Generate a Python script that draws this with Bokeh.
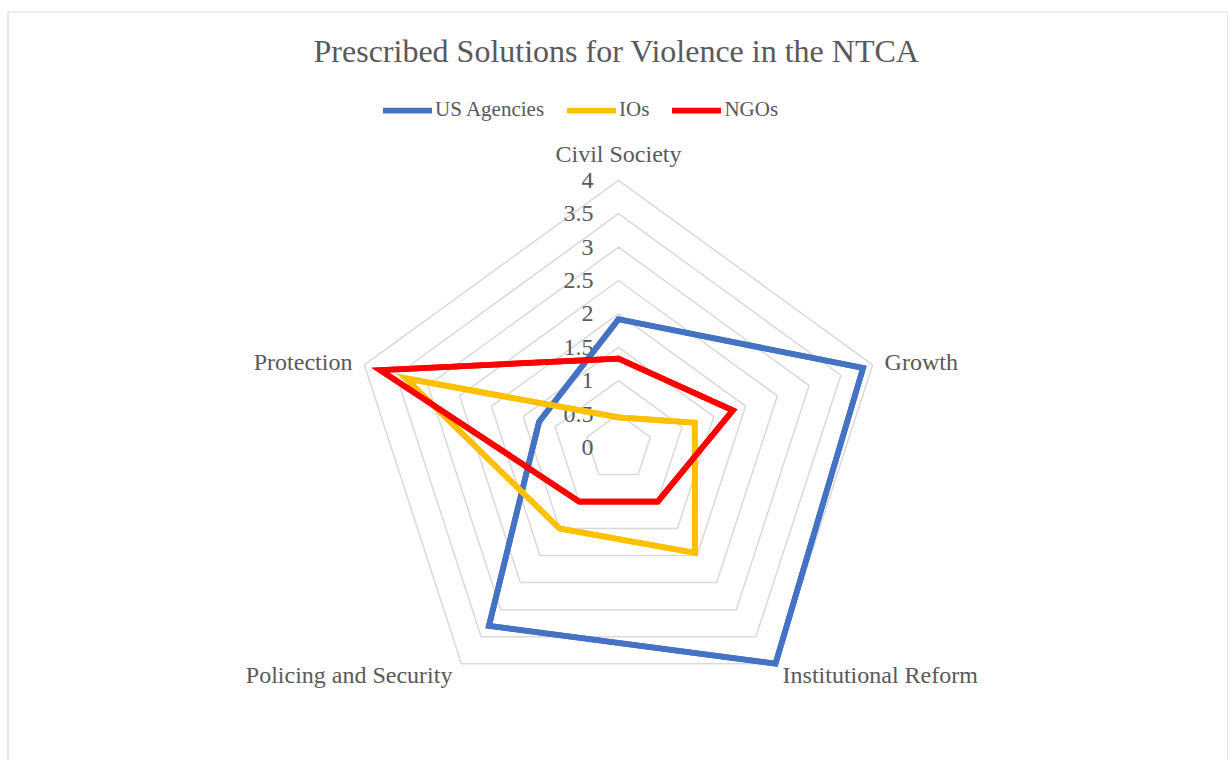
import numpy as np
from bokeh.plotting import figure
from bokeh.models import Range1d, Legend, LegendItem, Label, ColumnDataSource
from bokeh.core.properties import value
from bokeh.embed import file_html
from bokeh.resources import INLINE

# ---- data ----
categories = ["Civil Society", "Growth", "Institutional Reform", "Policing and Security", "Protection"]
us_agencies = [1.92, 3.85, 4.0, 3.3, 1.25]
ios = [0.45, 1.2, 1.95, 1.5, 3.35]
ngos = [1.33, 1.8, 1.0, 1.0, 3.75]
series_names = ["US Agencies", "IOs", "NGOs"]
ring_values = [0.5, 1, 1.5, 2, 2.5, 3, 3.5, 4]
tick_labels = ["0", "0.5", "1", "1.5", "2", "2.5", "3", "3.5", "4"]
tick_values = [0, 0.5, 1, 1.5, 2, 2.5, 3, 3.5, 4]

# ---- layout ----
W, H = 1228, 760
cx, cy = 618, 447      # pixel centre of radar
s = 66.8               # pixels per unit
FONT = "Liberation Serif"
TXT = "#595959"
GRID = "#d9d9d9"
colors = ["#4472C4", "#FFC000", "#FF0000"]
LW = 5.75

n = len(categories)
theta = np.deg2rad(90 - 72 * np.arange(n))

def polar(vals):
    v = np.asarray(vals, dtype=float)
    return list(v * np.cos(theta)), list(v * np.sin(theta))

p = figure(width=W, height=H, output_backend="svg", toolbar_location=None,
           x_range=Range1d(-cx / s, (W - cx) / s), y_range=Range1d(-(H - cy) / s, cy / s),
           x_axis_location=None, y_axis_location=None, min_border=0,
           outline_line_color=None)
p.grid.visible = False
p.background_fill_color = "white"
p.border_fill_color = "white"

# chart-area border (left, top, right)
def px2d(px, py):
    return (px - cx) / s, (cy - py) / s
corners = [(7.5, 770), (7.5, 11.5), (1227.5, 11.5), (1227.5, 770)]
bx = [px2d(a, b)[0] for a, b in corners]
by = [px2d(a, b)[1] for a, b in corners]
p.line(bx, by, line_color=GRID, line_width=1.2)

# grid rings
for rv in ring_values:
    gx, gy = polar([rv] * n)
    p.patch(gx, gy, fill_color=None, line_color=GRID, line_width=1.5)

# tick labels
p.text(x=[0] * len(tick_values), y=tick_values, text=tick_labels,
       x_offset=-25, text_align="right", text_baseline="middle",
       text_font=value(FONT), text_font_size="24px", text_color=TXT)

# category labels
cat_x, cat_y = polar([4] * n)
x_off = [0, 12, 7, -9, -12]
y_off = [-26, -3, 11, 11, -3]
aligns = ["center", "left", "left", "right", "right"]
cat_src = ColumnDataSource(dict(x=cat_x, y=cat_y, text=categories, xo=x_off, yo=y_off, al=aligns))
p.text(x="x", y="y", text="text", x_offset="xo", y_offset="yo", text_align="al",
       text_baseline="middle", source=cat_src,
       text_font=value(FONT), text_font_size="24px", text_color=TXT)

# series
items = []
for name, vals, col in zip(series_names, [us_agencies, ios, ngos], colors):
    sx, sy = polar(vals)
    ln = p.line(x=sx + sx[:1], y=sy + sy[:1], line_color=col, line_width=LW,
                line_cap="round", line_join="miter")
    p.patch(sx, sy, fill_color=None, line_color=col, line_width=LW, line_join="miter")
    items.append(LegendItem(label=name, renderers=[ln]))

legend = Legend(items=items, orientation="horizontal", location=(383, 638),
                glyph_width=49, glyph_height=20, label_standoff=3, spacing=23,
                padding=0, margin=0, border_line_color=None, background_fill_alpha=0,
                label_text_font=FONT, label_text_font_size="21px", label_text_color=TXT,
                label_height=20)
p.add_layout(legend)

# title
title = Label(x=616, y=H - 50, x_units="screen", y_units="screen",
              text="Prescribed Solutions for Violence in the NTCA",
              text_align="center", text_baseline="middle",
              text_font=FONT, text_font_size="32px", text_color=TXT)
p.add_layout(title)

open("out.html", "w").write(file_html(p, INLINE))
